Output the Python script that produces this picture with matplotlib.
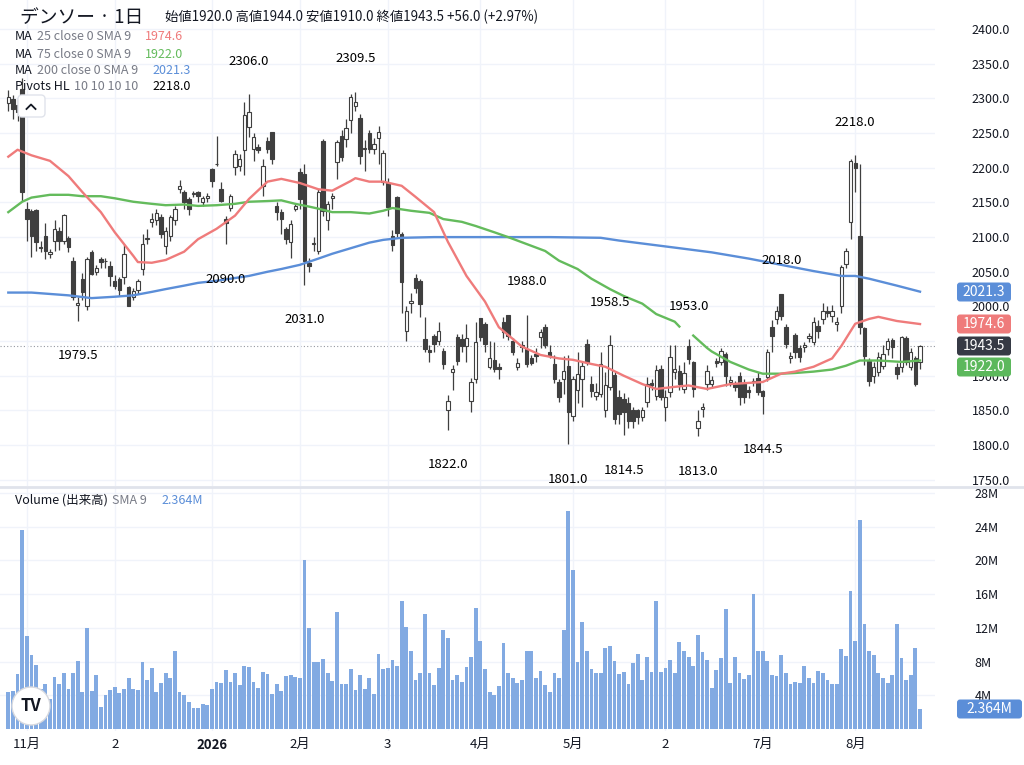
import numpy as np
import matplotlib
matplotlib.use("Agg")
import matplotlib.pyplot as plt
from matplotlib.patches import Circle, FancyBboxPatch
from matplotlib.lines import Line2D
from matplotlib.transforms import IdentityTransform

plt.rcParams["font.family"] = ["Noto Sans CJK JP", "DejaVu Sans"]

# =============================================================================
# data
# =============================================================================
opens = [
    2293, 2299, 2290, 2313, 2141, 2138, 2139, 2086, 2102, 2075,
    2095, 2109, 2095, 2099, 2066, 2002, 2040, 2001, 2079, 2050,
    2069, 2065, 2058, 2037, 2040, 2043, 2028, 2014, 2023, 2054,
    2097, 2122, 2125, 2129, 2087, 2102, 2125, 2169, 2165, 2155,
    2162, 2165, 2151, 2157, 2198, 2205, 2169, 2126, 2142, 2201,
    2203, 2226, 2259, 2227, 2230, 2174, 2239, 2252, 2145, 2136,
    2112, 2093, 2141, 2194, 2191, 2063, 2090, 2080, 2239, 2124,
    2157, 2209, 2246, 2242, 2269, 2289, 2272, 2227, 2250, 2227,
    2243, 2180, 2178, 2102, 2158, 2105, 1965, 2005, 2041, 2037,
    1953, 1937, 1957, 1950, 1936, 1850, 1906, 1956, 1953, 1943,
    1863, 1896, 1984, 1975, 1913, 1923, 1913, 1978, 1987, 1950,
    1912, 1944, 1939, 1926, 1932, 1956, 1971, 1935, 1917, 1891,
    1896, 1914, 1842, 1880, 1896, 1946, 1888, 1871, 1874, 1850,
    1884, 1901, 1870, 1867, 1861, 1850, 1850, 1841, 1862, 1890,
    1871, 1910, 1855, 1877, 1906, 1907, 1881, 1943, 1920, 1825,
    1852, 1888, 1888, 1921, 1920, 1932, 1891, 1888, 1900, 1888,
    1880, 1891, 1897, 1878, 1898, 1971, 1982, 2018, 1971, 1926,
    1959, 1940, 1942, 1955, 1949, 1972, 1982, 1994, 1986, 1975,
    2001, 2061, 2122, 2207, 2102, 1969, 1922, 1899, 1906, 1914,
    1939, 1952, 1913, 1912, 1955, 1913, 1925, 1920,
]
highs = [
    2312, 2305, 2300, 2330, 2150, 2141, 2140, 2095, 2120, 2083,
    2124, 2114, 2133, 2102, 2071, 2014, 2048, 2072, 2081, 2060,
    2072, 2070, 2066, 2045, 2042, 2090, 2030, 2026, 2040, 2105,
    2112, 2135, 2140, 2133, 2115, 2132, 2145, 2182, 2168, 2158,
    2166, 2167, 2160, 2163, 2200, 2246, 2180, 2130, 2162, 2225,
    2220, 2295, 2306, 2250, 2235, 2212, 2245, 2252, 2150, 2140,
    2115, 2125, 2148, 2200, 2205, 2070, 2100, 2170, 2242, 2152,
    2163, 2240, 2255, 2270, 2306, 2309.5, 2278, 2240, 2255, 2243,
    2260, 2225, 2185, 2110, 2160, 2108, 2000, 2020, 2047, 2040,
    1985, 1945, 1960, 1978, 1940, 1872, 1915, 1960, 1960, 1975,
    1897, 1978, 1984, 1978, 1950, 1948, 1918, 1985, 1987, 1955,
    1925, 1950, 1988, 1930, 1940, 1967, 1975, 1945, 1930, 1895,
    1928, 1930, 1900, 1935, 1920, 1953, 1900, 1890, 1935, 1905,
    1958.5, 1905, 1880, 1875, 1870, 1855, 1852, 1855, 1898, 1895,
    1915, 1915, 1880, 1945, 1945, 1915, 1920, 1953, 1922, 1850,
    1860, 1915, 1900, 1925, 1940, 1935, 1900, 1892, 1905, 1895,
    1885, 1897, 1905, 1880, 1938, 1980, 2000, 2018, 1975, 1935,
    1962, 1945, 1948, 1962, 1985, 1980, 2005, 2000, 2002, 1985,
    2060, 2085, 2213, 2218, 2205, 1970, 1925, 1920, 1935, 1945,
    1955, 1955, 1918, 1958, 1958, 1940, 1928, 1944,
]
lows = [
    2282, 2270, 2268, 2152, 2095, 2072, 2080, 2078, 2068, 2070,
    2080, 2082, 2090, 2078, 2010, 1979.5, 2010, 1995, 2045, 2045,
    2055, 2055, 2030, 2025, 2015, 2033, 2000, 2010, 2018, 2045,
    2090, 2115, 2118, 2098, 2075, 2095, 2118, 2163, 2140, 2132,
    2158, 2150, 2145, 2150, 2172, 2203, 2150, 2090, 2138, 2190,
    2195, 2190, 2245, 2210, 2222, 2160, 2222, 2205, 2125, 2105,
    2090, 2070, 2138, 2140, 2031, 2050, 2080, 2075, 2130, 2110,
    2140, 2184, 2210, 2230, 2250, 2282, 2205, 2195, 2222, 2220,
    2205, 2175, 2130, 2080, 2100, 1990, 1950, 1990, 2020, 1985,
    1935, 1920, 1935, 1945, 1910, 1822, 1880, 1915, 1935, 1920,
    1848, 1890, 1950, 1935, 1910, 1905, 1895, 1955, 1952, 1930,
    1908, 1935, 1913, 1915, 1920, 1940, 1940, 1925, 1890, 1862,
    1874, 1801, 1835, 1860, 1855, 1915, 1870, 1865, 1870, 1840,
    1880, 1830, 1830, 1814.5, 1825, 1825, 1830, 1835, 1855, 1880,
    1865, 1865, 1835, 1870, 1895, 1880, 1875, 1917, 1870, 1813,
    1840, 1880, 1882, 1912, 1915, 1885, 1885, 1878, 1858, 1860,
    1868, 1885, 1872, 1844.5, 1893, 1935, 1975, 1980, 1940, 1918,
    1925, 1920, 1935, 1948, 1945, 1955, 1975, 1985, 1978, 1965,
    1990, 2055, 2097, 2165, 1960, 1915, 1885, 1890, 1900, 1910,
    1930, 1925, 1895, 1905, 1915, 1908, 1885, 1910,
]
closes = [
    2302, 2285, 2280, 2165, 2126, 2102, 2093, 2084, 2080, 2078,
    2112, 2095, 2132, 2086, 2014, 2005, 2021, 2069, 2047, 2056,
    2064, 2066, 2044, 2030, 2023, 2076, 2001, 2022, 2037, 2090,
    2098, 2126, 2135, 2105, 2109, 2129, 2141, 2174, 2151, 2141,
    2163, 2159, 2157, 2160, 2181, 2206, 2152, 2121, 2159, 2220,
    2213, 2276, 2280, 2244, 2226, 2202, 2227, 2213, 2136, 2126,
    2097, 2119, 2145, 2155, 2066, 2059, 2091, 2165, 2138, 2148,
    2160, 2237, 2216, 2257, 2302, 2295, 2217, 2228, 2227, 2235,
    2252, 2222, 2143, 2088, 2106, 2035, 1994, 2008, 2027, 2004,
    1939, 1935, 1946, 1964, 1917, 1864, 1910, 1922, 1943, 1954,
    1891, 1949, 1956, 1946, 1925, 1910, 1910, 1963, 1958, 1934,
    1919, 1942, 1917, 1919, 1928, 1963, 1945, 1928, 1896, 1870,
    1907, 1848, 1896, 1902, 1914, 1920, 1878, 1877, 1917, 1886,
    1944, 1838, 1845, 1848, 1835, 1835, 1841, 1851, 1888, 1886,
    1909, 1870, 1870, 1927, 1910, 1888, 1904, 1924, 1881, 1835,
    1855, 1907, 1894, 1918, 1936, 1900, 1894, 1884, 1870, 1870,
    1877, 1893, 1877, 1871, 1935, 1958, 1994, 1986, 1946, 1929,
    1935, 1927, 1944, 1958, 1978, 1965, 1994, 1991, 1994, 1978,
    2057, 2080, 2210, 2200, 1971, 1929, 1893, 1913, 1927, 1932,
    1950, 1942, 1903, 1956, 1920, 1935, 1888, 1943.5,
]
# volume in millions of shares
volume_m = [
    4.4, 4.5, 6.5, 23.6, 11.0, 8.8, 7.6, 4.7, 5.3, 3.5,
    6.2, 5.3, 6.6, 4.8, 6.7, 8.1, 4.4, 12.0, 4.5, 6.4,
    2.6, 4.0, 4.6, 5.0, 4.3, 4.7, 6.0, 4.8, 4.6, 8.0,
    5.8, 7.2, 4.4, 5.5, 6.6, 6.1, 9.3, 4.4, 4.0, 3.2,
    2.5, 2.5, 3.0, 2.9, 4.7, 5.6, 5.4, 7.0, 5.6, 6.6,
    5.2, 7.5, 7.3, 5.6, 4.9, 6.8, 6.5, 4.2, 5.3, 4.5,
    6.3, 6.4, 6.2, 6.1, 20.0, 12.0, 7.9, 8.0, 8.3, 6.6,
    5.7, 13.9, 5.3, 5.3, 7.1, 4.6, 6.4, 4.8, 6.0, 4.2,
    8.9, 7.1, 7.2, 8.2, 7.5, 15.2, 12.1, 9.2, 5.8, 6.6,
    13.7, 6.6, 5.2, 7.2, 11.7, 10.8, 5.8, 6.4, 5.6, 7.4,
    8.5, 14.4, 10.4, 7.1, 4.4, 4.0, 5.1, 10.2, 6.7, 6.1,
    5.5, 5.8, 9.2, 9.2, 6.1, 6.9, 5.2, 4.4, 6.6, 6.0,
    11.7, 25.9, 18.9, 7.9, 12.7, 9.3, 7.1, 6.7, 6.7, 9.6,
    9.9, 8.1, 6.5, 6.8, 5.3, 7.8, 8.9, 5.8, 8.6, 6.8,
    15.2, 6.8, 7.2, 8.2, 6.7, 10.3, 9.3, 8.5, 7.5, 11.1,
    9.1, 8.2, 4.9, 7.0, 8.4, 14.2, 5.4, 8.5, 6.7, 5.9,
    6.4, 16.0, 9.2, 9.2, 8.1, 6.4, 6.3, 8.8, 6.7, 5.3,
    5.6, 5.4, 7.5, 6.0, 5.5, 6.9, 6.6, 5.8, 5.3, 5.3,
    9.5, 8.7, 16.4, 10.4, 24.8, 12.4, 9.2, 8.8, 6.7, 6.1,
    5.4, 6.4, 12.5, 8.4, 5.8, 6.4, 9.6, 2.4,
]

# moving averages sampled along the drawn lines (candle index, value)
ma25_idx = [0, 2, 5, 9, 13, 16, 20, 23, 27, 28, 31, 34, 38, 41, 45, 49, 52,
            56, 59, 63, 67, 70, 74, 75, 78, 81, 85, 88, 92, 95, 99, 103, 106,
            111, 115, 119, 122, 126, 129, 133, 137, 140, 144, 147, 151, 156,
            163, 167, 170, 174, 178, 180, 183, 186, 188, 192, 197]
ma25_val = [2216, 2226, 2218, 2210, 2188, 2165, 2136, 2107, 2073, 2064, 2063,
            2067, 2079, 2097, 2112, 2131, 2155, 2180, 2184, 2178, 2169, 2167,
            2181, 2185, 2180, 2180, 2174, 2158, 2136, 2093, 2044, 2007, 1970,
            1942, 1930, 1925, 1923, 1917, 1913, 1900, 1888, 1881, 1884, 1886,
            1881, 1888, 1891, 1903, 1906, 1913, 1925, 1943, 1975, 1982, 1985,
            1979, 1974.6]
ma75_idx = [0, 3, 5, 9, 13, 16, 20, 23, 27, 31, 34, 38, 41, 45, 49, 52, 56,
            59, 62, 65, 67, 70, 74, 78, 81, 83, 87, 91, 94, 98, 101, 105, 108,
            112, 116, 119, 123, 126, 130, 133, 137, 140, 144, 145, 146, 148,
            151, 152, 156, 160, 163, 167, 170, 174, 178, 181, 184, 188, 193, 197]
ma75_val = [2136, 2151, 2157, 2161, 2161, 2159, 2159, 2156, 2151, 2148, 2146,
            2147, 2145, 2146, 2148, 2151, 2152, 2153, 2148, 2144, 2141, 2136,
            2136, 2134, 2138, 2142, 2138, 2135, 2126, 2122, 2116, 2107, 2100,
            2090, 2080, 2066, 2054, 2040, 2025, 2015, 2004, 1989, 1978, 1971,
            np.nan, 1958, 1940, 1935, 1920, 1909, 1903, 1903, 1904, 1906, 1909,
            1914.5, 1922, 1922, 1920, 1922]
ma200_idx = [0, 5, 13, 18, 23, 27, 31, 34, 38, 41, 45, 49, 52, 56, 59, 63, 67,
             70, 74, 78, 81, 85, 92, 106, 117, 128, 132, 145, 152, 160, 167,
             174, 180, 183, 186, 192, 197]
ma200_val = [2020, 2020, 2016, 2012, 2014, 2016, 2021, 2025, 2030, 2034, 2037,
             2041, 2044, 2050, 2054, 2060, 2069, 2076, 2084, 2092, 2096, 2099,
             2100, 2100, 2100, 2099, 2095, 2084, 2078, 2069, 2060, 2051, 2044,
             2044, 2040, 2030, 2021.3]

pivot_hi_idx = [52, 75, 112, 130, 147, 167, 183]
pivot_lo_idx = [15, 47, 64, 95, 121, 133, 149, 163]

month_idx = [4, 23, 44, 63, 82, 102, 122, 142, 163, 183]
month_labels = ["11月", "2", "2026", "2月", "3", "4月", "5月", "2", "7月", "8月"]
price_ticks = list(range(1750, 2401, 50))
vol_ticks = [4, 8, 12, 16, 20, 24, 28]

last_ma25, last_ma75, last_ma200 = 1974.6, 1922.0, 2021.3
last_vol_sma = "2.364M"

# =============================================================================
# plot
# =============================================================================
W, H = 1024, 765
DARK = "#131722"
GREY = "#787b86"
CANDLE = "#3f3f3f"
C_RED = "#ef7b7b"
C_GREEN = "#64bb5c"
C_BLUE = "#5b8ed8"
C_VOL = "#82aae2"
GRID = "#f0f3fa"

fig = plt.figure(figsize=(W / 100, H / 100), dpi=100)
PX = IdentityTransform()

# pixel layout
x_right = 935.0
x0_px, dx_px = 8.3, 4.628
xlim = ((0 - x0_px) / dx_px, (x_right - x0_px) / dx_px)

ax = fig.add_axes([0, 1 - 486 / H, x_right / W, 486 / H])
axv = fig.add_axes([0, 1 - 731 / H, x_right / W, (731 - 488) / H])

opens, highs, lows, closes = map(np.array, (opens, highs, lows, closes))
idx = np.arange(len(closes))
up = closes >= opens

# candles
ax.vlines(idx, lows, highs, color=CANDLE, lw=0.9, zorder=2)
body_lo = np.minimum(opens, closes)
body_h = np.maximum(np.abs(closes - opens), 0.8)
ax.bar(idx[up], body_h[up], bottom=body_lo[up], width=0.74,
       facecolor="white", edgecolor=CANDLE, linewidth=0.8, zorder=3)
ax.bar(idx[~up], body_h[~up], bottom=body_lo[~up], width=0.74,
       facecolor=CANDLE, edgecolor=CANDLE, linewidth=0.8, zorder=3)

# moving averages
ax.plot(ma200_idx, ma200_val, color=C_BLUE, lw=1.7, zorder=4)
ax.plot(ma75_idx, ma75_val, color=C_GREEN, lw=1.7, zorder=4)
ax.plot(ma25_idx, ma25_val, color=C_RED, lw=1.7, zorder=4)

# last price line
ax.axhline(closes[-1], color="#9598a1", lw=0.8, ls=(0, (1, 2)), zorder=1)

# pivots
for i in pivot_hi_idx:
    ax.annotate(f"{highs[i]:.1f}", (i, highs[i]), xytext=(0, 33),
                textcoords="offset pixels", ha="center", va="center",
                fontsize=9.5, color="black", zorder=6)
for i in pivot_lo_idx:
    ax.annotate(f"{lows[i]:.1f}", (i, lows[i]), xytext=(0, -35),
                textcoords="offset pixels", ha="center", va="center",
                fontsize=9.5, color="black", zorder=6)

ax.set_xlim(*xlim)
ax.set_ylim(1741, 2442)
ax.set_yticks(price_ticks)
# 1950 sits under the last-price boxes, so it is left blank as in the chart
ax.set_yticklabels(["" if p == 1950 else f"{p:.1f}" for p in price_ticks])
ax.yaxis.tick_right()
ax.tick_params(axis="y", length=0, pad=26.5, labelsize=9, labelcolor=DARK)
ax.set_xticks(month_idx)
ax.tick_params(axis="x", length=0, labelbottom=False)
ax.grid(color=GRID, lw=1, zorder=0)

# volume
axv.bar(idx, volume_m, width=0.82, color=C_VOL, zorder=2)
axv.set_xlim(*xlim)
axv.set_ylim(-0.24, 28.6)
axv.set_yticks(vol_ticks)
axv.set_yticklabels([f"{v}M" for v in vol_ticks])
axv.yaxis.tick_right()
axv.tick_params(axis="y", length=0, pad=28.5, labelsize=9, labelcolor=DARK)
axv.set_xticks(month_idx)
axv.set_xticklabels(month_labels)
axv.tick_params(axis="x", length=0, pad=5, labelsize=9.5, labelcolor=DARK)
for lab in axv.get_xticklabels():
    if lab.get_text() == "2026":
        lab.set_fontweight("bold")
axv.grid(color=GRID, lw=1, zorder=0)

for a in (ax, axv):
    for s in a.spines.values():
        s.set_visible(False)
    a.set_facecolor("none")

# panel separator
fig.add_artist(Line2D([0, W], [H - 487, H - 487], transform=PX,
                      color="#e0e3eb", lw=2))

renderer = fig.canvas.get_renderer()


def text_parts(x, y, parts):
    # draw consecutive text pieces on one line, pixel coords from top-left
    for s, size, color, gap in parts:
        t = fig.text(x, H - y, s, transform=PX, fontsize=size, color=color,
                     ha="left", va="center")
        bb = t.get_window_extent(renderer)
        x = bb.x1 + gap


# header and legends
text_parts(20, 17, [("デンソー · 1日", 13.5, DARK, 0)])
text_parts(165, 17, [("始値1920.0 高値1944.0 安値1910.0 終値1943.5 +56.0 (+2.97%)",
                      9.6, DARK, 0)])
legend_rows = [
    ("MA", "25 close 0 SMA 9", f"{last_ma25:.1f}", C_RED, 37, 145),
    ("MA", "75 close 0 SMA 9", f"{last_ma75:.1f}", C_GREEN, 54, 145),
    ("MA", "200 close 0 SMA 9", f"{last_ma200:.1f}", C_BLUE, 70, 152),
    ("Pivots HL", "10 10 10 10", f"{highs[183]:.1f}", "black", 86, 152),
]
for name, args, val, col, y, xv in legend_rows:
    text_parts(15, y, [(name, 9, DARK, 4), (args, 9, GREY, 0)])
    text_parts(xv, y, [(val, 9, col, 0)])
text_parts(15, 500, [("Volume (出来高)", 9, DARK, 4), ("SMA 9", 9, GREY, 0)])
text_parts(161, 500, [(last_vol_sma, 9, C_BLUE, 0)])

# collapse button
fig.add_artist(FancyBboxPatch((18, H - 117), 27, 22, transform=PX,
                              boxstyle="round,pad=0,rounding_size=4",
                              facecolor="white", edgecolor="#e0e3eb", lw=1))
fig.add_artist(Line2D([26.5, 31, 35.5], [H - 109, H - 104.5, H - 109],
                      transform=PX, color=DARK, lw=1.3))

# right-side value boxes
value_boxes = [
    (f"{last_ma200:.1f}", C_BLUE, 292, 54),
    (f"{last_ma25:.1f}", C_RED, 324, 54),
    (f"{closes[-1]:.1f}", "#363a45", 346, 54),
    (f"{last_ma75:.1f}", "#5cb85c", 367, 54),
    (last_vol_sma, C_BLUE, 709, 65),
]
for s, col, yc, w in value_boxes:
    fig.add_artist(FancyBboxPatch((957, H - yc - 9.5), w, 19, transform=PX,
                                  boxstyle="round,pad=0,rounding_size=3",
                                  facecolor=col, edgecolor="none"))
    fig.text(957 + w / 2, H - yc, s, transform=PX, fontsize=10,
             color="white", ha="center", va="center")

# TradingView logo
fig.add_artist(Circle((31, H - 706), 19, transform=PX, facecolor="white",
                      edgecolor="#d6d8de", lw=1, zorder=5))
fig.text(31, H - 706, "TV", transform=PX, fontsize=12, fontweight="bold",
         color=DARK, ha="center", va="center", zorder=6)

fig.savefig("out.png", dpi=100)
